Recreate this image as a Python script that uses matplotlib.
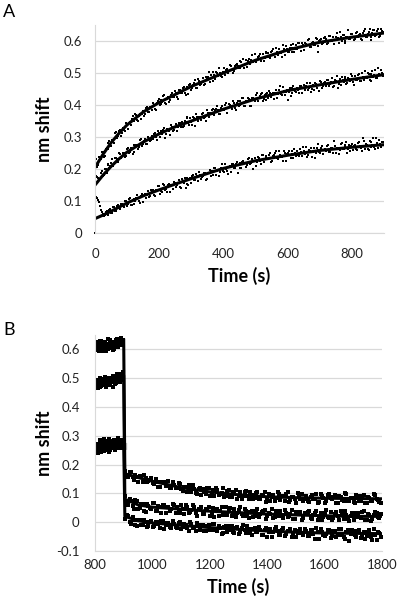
import numpy as np
import matplotlib
matplotlib.use('Agg')
import matplotlib.pyplot as plt

plt.rcParams['font.family'] = ['Lato', 'DejaVu Sans']
plt.rcParams['axes.unicode_minus'] = False

# ---- panel A: association (values in nm x 1000) ----
# readings on even 6 s steps
t_assoc = np.arange(0, 900, 6)
# readings in between, 3 s later
t_assoc2 = np.arange(3, 900, 6)

assoc_high = [
    243, 206, 238, 231, 253, 240, 265, 280, 271, 291, 281, 315, 304, 323, 313,
    322, 344, 324, 347, 357, 350, 373, 352, 367, 357, 380, 373, 394, 377, 394,
    405, 388, 405, 419, 402, 409, 432, 404, 425, 416, 436, 426, 438, 420, 446,
    437, 457, 432, 455, 462, 448, 461, 477, 454, 474, 467, 484, 467, 482, 502,
    493, 476, 495, 504, 490, 500, 486, 516, 509, 501, 525, 510, 506, 525, 523,
    517, 533, 543, 528, 520, 544, 540, 533, 558, 542, 552, 536, 559, 547, 565,
    561, 548, 569, 559, 578, 557, 567, 551, 575, 583, 567, 577, 566, 591, 576,
    575, 593, 570, 589, 595, 586, 606, 581, 597, 589, 606, 566, 603, 590, 608,
    606, 593, 616, 600, 592, 613, 608, 629, 601, 618, 594, 614, 607, 622, 611,
    606, 629, 618, 605, 624, 638, 613, 628, 604, 624, 633, 619, 638, 617, 632]
assoc_high2 = [
    230, 213, 236, 254, 238, 264, 263, 286, 273, 291, 311, 297, 318, 304, 328,
    318, 342, 343, 337, 366, 350, 368, 349, 373, 372, 365, 392, 379, 395, 384,
    400, 385, 414, 400, 417, 429, 406, 420, 409, 430, 424, 444, 426, 446, 437,
    453, 439, 453, 434, 466, 454, 468, 453, 481, 464, 473, 461, 486, 486, 472,
    484, 503, 482, 500, 516, 492, 504, 493, 514, 506, 523, 499, 521, 529, 516,
    539, 523, 517, 541, 538, 527, 555, 537, 534, 551, 560, 547, 539, 562, 550,
    550, 565, 575, 550, 566, 575, 562, 586, 556, 574, 566, 586, 577, 567, 586,
    593, 580, 593, 571, 592, 602, 581, 593, 586, 610, 583, 600, 606, 595, 614,
    591, 617, 599, 611, 603, 625, 593, 612, 619, 601, 613, 634, 605, 621, 602,
    624, 612, 623, 602, 632, 612, 621, 637, 611, 633, 617, 630, 612, 637, 629]

assoc_mid = [
    175, 175, 166, 188, 178, 199, 189, 216, 210, 231, 217, 233, 221, 246, 240,
    251, 240, 267, 252, 263, 252, 276, 274, 268, 294, 277, 293, 277, 295, 291,
    294, 314, 290, 312, 318, 310, 328, 309, 321, 305, 332, 323, 342, 331, 344,
    346, 333, 348, 362, 336, 348, 362, 334, 364, 362, 354, 375, 363, 385, 364,
    371, 389, 370, 387, 384, 371, 397, 383, 406, 391, 399, 386, 406, 384, 412,
    413, 402, 421, 398, 414, 419, 396, 421, 411, 436, 421, 433, 411, 430, 435,
    421, 439, 435, 420, 448, 433, 458, 431, 445, 440, 417, 452, 439, 459, 444,
    453, 438, 460, 454, 446, 469, 452, 440, 463, 469, 454, 461, 475, 453, 468,
    460, 477, 466, 485, 459, 474, 452, 480, 486, 471, 481, 468, 480, 497, 473,
    490, 477, 497, 474, 488, 507, 484, 496, 475, 506, 495, 483, 516, 494, 500]
assoc_mid2 = [
    177, 173, 168, 194, 181, 201, 214, 203, 219, 210, 235, 230, 250, 235, 250,
    238, 264, 251, 266, 248, 276, 272, 262, 292, 273, 286, 277, 300, 288, 303,
    308, 299, 320, 299, 314, 323, 298, 325, 319, 336, 319, 330, 318, 344, 332,
    331, 350, 358, 345, 358, 339, 359, 373, 350, 363, 373, 359, 350, 376, 374,
    385, 371, 383, 396, 372, 392, 384, 401, 376, 402, 397, 411, 391, 406, 398,
    401, 422, 398, 414, 422, 397, 422, 416, 431, 413, 427, 439, 420, 416, 437,
    444, 424, 439, 436, 422, 447, 435, 457, 430, 447, 441, 429, 454, 449, 440,
    446, 459, 438, 464, 458, 446, 470, 451, 446, 465, 461, 443, 471, 458, 472,
    478, 460, 472, 455, 479, 491, 467, 461, 477, 489, 467, 484, 475, 490, 462,
    477, 493, 474, 501, 479, 489, 500, 477, 497, 488, 510, 485, 498, 508, 491]

assoc_low = [
    116, 108, 97, 72, 61, 55, 69, 58, 74, 63, 81, 70, 88, 76, 92,
    81, 100, 90, 108, 88, 105, 101, 120, 100, 116, 98, 123, 119, 114, 134,
    133, 117, 134, 148, 130, 128, 149, 139, 151, 128, 151, 161, 145, 155, 145,
    169, 156, 142, 171, 168, 157, 182, 165, 177, 191, 169, 178, 189, 169, 189,
    179, 194, 204, 180, 197, 190, 215, 190, 201, 186, 211, 216, 204, 215, 189,
    218, 204, 226, 220, 213, 236, 219, 199, 235, 222, 234, 215, 243, 230, 241,
    230, 249, 225, 243, 256, 231, 243, 238, 256, 226, 251, 243, 256, 235, 250,
    257, 240, 253, 270, 247, 239, 259, 265, 252, 236, 265, 259, 251, 273, 258,
    255, 274, 252, 266, 287, 251, 265, 259, 280, 263, 275, 251, 274, 271, 258,
    275, 258, 284, 266, 298, 263, 275, 259, 283, 274, 268, 296, 266, 279, 284]
assoc_low2 = [
    112, 104, 86, 66, 53, 67, 57, 73, 64, 80, 69, 85, 77, 91, 83,
    99, 86, 107, 88, 103, 90, 111, 109, 94, 121, 117, 109, 130, 117, 130,
    120, 135, 146, 123, 138, 154, 134, 129, 153, 150, 138, 157, 149, 166, 141,
    162, 173, 154, 149, 173, 178, 166, 186, 163, 182, 176, 188, 167, 187, 196,
    194, 180, 203, 195, 179, 204, 195, 216, 194, 207, 192, 216, 203, 222, 212,
    203, 223, 220, 205, 232, 216, 232, 226, 208, 237, 225, 245, 223, 239, 231,
    245, 223, 242, 250, 233, 255, 238, 226, 249, 246, 257, 236, 247, 264, 242,
    245, 263, 240, 257, 268, 245, 256, 239, 265, 250, 278, 254, 266, 247, 263,
    271, 253, 267, 249, 272, 267, 247, 279, 261, 273, 285, 261, 257, 278, 271,
    262, 280, 273, 256, 289, 277, 263, 286, 270, 298, 262, 281, 290, 270, 285]

# single reading at the origin
origin_t = [0]
origin_y = [0]

# fitted curves, panel A
t_fit_a = [0, 25, 50, 75, 100, 150, 200, 250, 300, 400, 500, 600, 700, 800, 900]
fit_a_high = [205, 246, 282, 312, 338, 378, 408, 433, 458, 500, 540, 572, 596, 612, 625]
fit_a_mid = [150, 181, 208, 232, 253, 284, 310, 332, 350, 387, 419, 445, 463, 480, 495]
fit_a_low = [45, 56, 68, 81, 94, 116, 135, 153, 170, 202, 226, 243, 258, 268, 276]

# ---- panel B: end of association + dissociation ----
t_pre = np.arange(800, 900, 4)
t_pre2 = np.arange(802, 900, 4)
pre_high = [612, 598, 621, 605, 630, 609, 594, 617, 603, 626, 611, 600, 619,
            632, 607, 615, 598, 624, 612, 636, 608, 621, 629, 614, 633]
pre_high2 = [603, 625, 610, 596, 618, 628, 601, 613, 622, 594, 616, 635, 605,
             620, 611, 627, 603, 618, 631, 609, 624, 616, 638, 622, 628]
pre_mid = [487, 472, 495, 480, 468, 491, 483, 476, 498, 485, 470, 489, 502,
           478, 494, 486, 509, 481, 497, 515, 490, 503, 511, 495, 520]
pre_mid2 = [478, 493, 466, 485, 500, 474, 489, 481, 505, 472, 496, 484, 477,
            499, 488, 470, 503, 492, 484, 508, 497, 486, 513, 501, 507]
pre_low = [262, 248, 271, 255, 280, 243, 266, 258, 289, 251, 263, 274, 245,
           268, 283, 256, 270, 249, 277, 261, 292, 259, 272, 266, 285]
pre_low2 = [255, 272, 241, 264, 286, 253, 275, 247, 269, 282, 258, 265, 290,
            252, 274, 260, 287, 254, 268, 279, 263, 284, 257, 276, 270]

t_diss = np.arange(906, 1800, 10)
t_diss2 = np.arange(911, 1800, 10)
diss_high = [
    176, 158, 173, 148, 158, 161, 138, 152, 142,
    153, 132, 140, 123, 140, 127, 143, 118, 128,
    118, 132, 107, 121, 128, 106, 114, 96, 118,
    114, 97, 120, 101, 91, 110, 96, 119, 92,
    110, 89, 100, 80, 103, 91, 108, 80, 94,
    84, 104, 79, 92, 71, 97, 88, 75, 104,
    77, 91, 97, 71, 87, 79, 100, 81, 73,
    91, 71, 93, 79, 65, 96, 84, 74, 97,
    80, 93, 67, 88, 75, 99, 72, 84, 68,
    90, 75, 94, 65, 85, 72, 93, 78, 67]
diss_high2 = [
    157, 174, 156, 164, 141, 156, 162, 140, 146,
    135, 151, 122, 139, 141, 127, 118, 139, 119,
    136, 114, 121, 104, 123, 130, 102, 114, 94,
    104, 117, 91, 110, 118, 93, 102, 87, 108,
    87, 104, 111, 90, 80, 103, 90, 104, 82,
    102, 80, 93, 104, 82, 72, 95, 83, 97,
    91, 73, 103, 78, 87, 68, 93, 98, 79,
    74, 89, 80, 98, 71, 90, 65, 94, 83,
    89, 68, 92, 77, 101, 72, 84, 70, 94,
    75, 92, 66, 86, 73, 97, 79, 69]
diss_mid = [
    92, 60, 72, 46, 73, 50, 64, 36, 57,
    44, 67, 37, 53, 60, 30, 54, 45, 60,
    54, 30, 47, 61, 33, 41, 54, 20, 46,
    27, 45, 53, 31, 18, 46, 38, 25, 52,
    39, 20, 45, 30, 52, 21, 37, 15, 39,
    23, 44, 27, 39, 11, 33, 47, 18, 28,
    39, 14, 32, 21, 41, 10, 28, 34, 14,
    28, 39, 12, 30, 7, 33, 18, 42, 14,
    8, 29, 22, 38, 11, 24, 5, 32, 17,
    30, 14, 38, 6, 25, 10, 34, 18, 27]
diss_mid2 = [
    65, 81, 56, 76, 45, 64, 39, 64, 49,
    66, 40, 56, 32, 58, 51, 39, 63, 33,
    43, 59, 29, 51, 36, 60, 30, 45, 51,
    29, 42, 21, 50, 43, 23, 53, 30, 24,
    48, 27, 18, 41, 29, 47, 21, 35, 17,
    39, 17, 34, 43, 20, 28, 13, 39, 22,
    20, 43, 17, 29, 12, 36, 30, 9, 33,
    35, 13, 26, 38, 17, 8, 31, 19, 34,
    14, 35, 8, 25, 39, 11, 22, 6, 30,
    17, 35, 9, 28, 4, 24, 32, 14]
diss_low = [
    12, 21, -5, 9, -13, 7, -10, 1, -14,
    5, -14, -1, -22, 5, -10, -2, -22, -8,
    -19, 1, -17, -10, -31, -6, -17, -3, -28,
    -11, -30, -9, -26, -5, -30, -19, -38, -15,
    -27, -13, -39, -18, -34, -10, -38, -25, -45,
    -20, -36, -26, -45, -19, -34, -52, -25, -32,
    -43, -19, -40, -31, -51, -26, -37, -23, -45,
    -31, -49, -27, -59, -35, -23, -46, -42, -29,
    -49, -31, -43, -23, -53, -36, -64, -29, -45,
    -31, -56, -36, -49, -27, -61, -43, -34, -52]
diss_low2 = [
    25, 2, 17, -10, 7, -11, 7, -16, 2,
    -16, 2, -8, 4, -24, -4, -17, 3, -16,
    -2, -25, -6, -21, -1, -19, -31, -9, -15,
    -31, -15, -27, -6, -26, -12, -40, -17, -34,
    -12, -33, -22, -41, -19, -29, -12, -38, -24,
    -35, -17, -44, -26, -50, -23, -36, -18, -43,
    -27, -49, -31, -24, -43, -53, -30, -39, -23,
    -48, -28, -42, -22, -57, -34, -48, -26, -54,
    -32, -51, -25, -46, -58, -29, -41, -31, -53,
    -29, -45, -58, -33, -50, -25, -62, -37]

# fitted curves, panel B (drop at 900 s)
t_fit_b = [900, 904, 950, 1000, 1100, 1200, 1300, 1400, 1500, 1600, 1700, 1800]
fit_b_high = [632, 168, 155, 142, 120, 105, 95, 88, 85, 83, 82, 81]
fit_b_mid = [505, 80, 60, 52, 45, 38, 33, 28, 25, 22, 20, 20]
fit_b_low = [270, 20, 5, -3, -11, -19, -25, -31, -35, -38, -39, -40]
t_grey_b = [800, 820, 850, 880, 900]
grey_b = [252, 258, 262, 263, 263]

grid_col = '#d9d9d9'


def style_axes(ax, xticks, yticks, xlim, ylim, xpad, ypad):
    ax.set_xlim(*xlim)
    ax.set_ylim(*ylim)
    ax.set_xticks(xticks)
    ax.set_yticks(yticks)
    ax.set_yticklabels(['%g' % v for v in yticks])
    ax.grid(axis='y', color=grid_col, linewidth=0.9)
    ax.set_axisbelow(True)
    for s in ['top', 'right']:
        ax.spines[s].set_visible(False)
    ax.spines['left'].set_color(grid_col)
    ax.spines['bottom'].set_color(grid_col)
    ax.tick_params(axis='both', length=0, labelsize=9.5, colors='#222222')
    ax.tick_params(axis='x', pad=xpad)
    ax.tick_params(axis='y', pad=ypad)


def dots(ax, t, vals, size):
    ax.plot(t, np.array(vals) / 1000, 's', color='black',
            markersize=size, markeredgewidth=0)


fig = plt.figure(figsize=(4.0, 6.07), dpi=100)

# panel A
axA = fig.add_axes([0.2375, 0.6161, 0.7225, 0.3427])
for vals in [assoc_high, assoc_mid, assoc_low]:
    dots(axA, t_assoc, vals, 1.6)
for vals in [assoc_high2, assoc_mid2, assoc_low2]:
    dots(axA, t_assoc2, vals, 1.6)
axA.plot(origin_t, np.array(origin_y) / 1000, 's', color='black',
         markersize=1.8, markeredgewidth=0, clip_on=False)
for vals in [fit_a_high, fit_a_mid, fit_a_low]:
    axA.plot(t_fit_a, np.array(vals) / 1000, '-', color='black', linewidth=2.2)
style_axes(axA, [0, 200, 400, 600, 800], [0, 0.1, 0.2, 0.3, 0.4, 0.5, 0.6],
           (0, 900), (0, 0.65), 11, 9)
axA.set_xlabel('Time (s)', fontsize=13, fontweight='bold')
axA.set_ylabel('nm shift', fontsize=13, fontweight='bold')
axA.xaxis.set_label_coords(0.5, -0.165)
axA.yaxis.set_label_coords(-0.145, 0.5)

# panel B
axB = fig.add_axes([0.2375, 0.0924, 0.7175, 0.3557])
axB.plot(t_grey_b, np.array(grey_b) / 1000, '-', color='#bfbfbf', linewidth=5)
for vals in [pre_high, pre_mid, pre_low]:
    dots(axB, t_pre, vals, 2.2)
for vals in [pre_high2, pre_mid2, pre_low2]:
    dots(axB, t_pre2, vals, 2.2)
for vals in [diss_high, diss_mid, diss_low]:
    dots(axB, t_diss, vals, 2.2)
for vals in [diss_high2, diss_mid2, diss_low2]:
    dots(axB, t_diss2, vals, 2.2)
for vals in [fit_b_high, fit_b_mid, fit_b_low]:
    axB.plot(t_fit_b, np.array(vals) / 1000, '-', color='black', linewidth=2.2)
style_axes(axB, [800, 1000, 1200, 1400, 1600, 1800],
           [-0.1, 0, 0.1, 0.2, 0.3, 0.4, 0.5, 0.6],
           (800, 1800), (-0.1, 0.65), 6, 11)
axB.set_xlabel('Time (s)', fontsize=13, fontweight='bold')
axB.set_ylabel('nm shift', fontsize=13, fontweight='bold')
axB.xaxis.set_label_coords(0.5, -0.125)
axB.yaxis.set_label_coords(-0.146, 0.5)

fig.text(0.008, 0.993, 'A', fontsize=13, va='top', ha='left')
fig.text(0.008, 0.470, 'B', fontsize=13, va='top', ha='left')

fig.savefig('out.png', dpi=100)
